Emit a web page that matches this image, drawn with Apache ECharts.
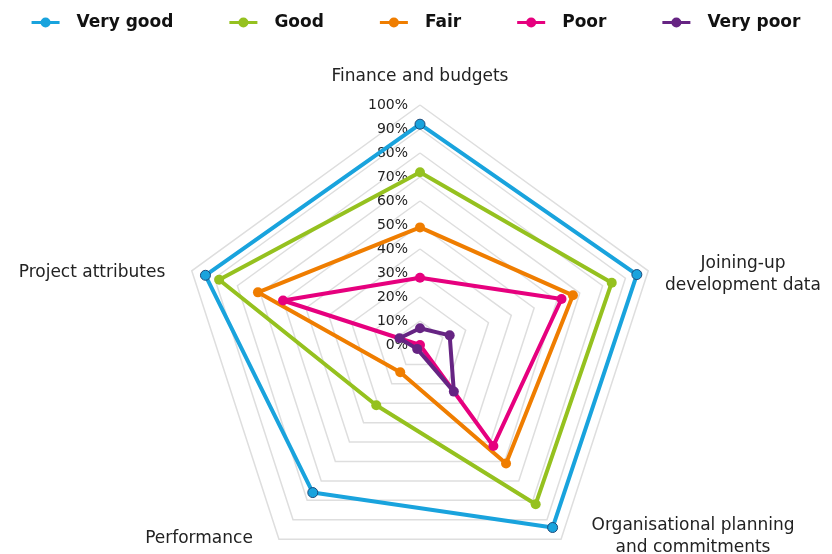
<!DOCTYPE html>
<html>
<head>
<meta charset="utf-8">
<script src="https://cdn.jsdelivr.net/npm/echarts@6/dist/echarts.min.js"></script>
<style>
  html, body { margin: 0; padding: 0; background: #fff; }
  #chart { width: 832px; height: 554px; }
</style>
</head>
<body>
<div id="chart"></div>
<script>
// indicators, counter-clockwise from the top
const categories = ['Finance and budgets', 'Project attributes', 'Performance', 'Organisational planning\nand commitments', 'Joining-up\ndevelopment data']
const tickLabels = ['0%', '10%', '20%', '30%', '40%', '50%', '60%', '70%', '80%', '90%', '100%']

const seriesNames = ['Very good', 'Good', 'Fair', 'Poor', 'Very poor']
const veryGood = [92, 94, 76, 94, 95]
const good = [72, 88, 31, 82, 84]
const fair = [49, 71, 14, 61, 67]
const poor = [28, 60, 0, 52, 62]
const veryPoor = [7, 9, 2, 24, 13]

const colors = ['#19a3dd', '#95c11f', '#ef7d00', '#e6007e', '#662483']
const font = 'DejaVu Sans'
// line with a dot in the middle, like the legend keys of the original
const legendIcon = 'path://M0,3.5H28V6.5H0Z M9,5a5,5 0 1,1 10,0a5,5 0 1,1 -10,0Z'

// where the indicator names sit (centre of each text block)
const namePos = [[420, 77], [92, 273], [199, 539], [693, 537], [743, 275]]

const chart = echarts.init(document.getElementById('chart'))

const indicator = categories.map((name, i) => {
  const ind = { name: name, min: 0, max: 100 }
  if (i === 0) {
    ind.axisLabel = {
      show: true,
      fontFamily: font,
      fontSize: 14,
      color: '#222',
      margin: 12,
      formatter: v => tickLabels[Math.round(v / 10)]
    }
  }
  return ind
})

const allData = [veryGood, good, fair, poor, veryPoor]

const option = {
  animation: false,
  color: colors,
  legend: {
    top: 9,
    left: 'center',
    itemWidth: 28,
    itemHeight: 10,
    itemGap: 56,
    icon: legendIcon,
    itemStyle: { borderWidth: 0 },
    textStyle: {
      fontFamily: font,
      fontSize: 17,
      fontWeight: 'bold',
      color: '#111',
      padding: [0, 0, 0, 12]
    },
    data: seriesNames
  },
  radar: {
    center: [420, 345],
    radius: 240,
    startAngle: 90,
    shape: 'polygon',
    splitNumber: 10,
    axisName: { show: false },
    axisLine: { show: false },
    axisTick: { show: false },
    axisLabel: { show: false },
    splitArea: { show: false },
    splitLine: { lineStyle: { color: '#dedede', width: 1.5 } },
    indicator: indicator
  },
  graphic: categories.map((name, i) => ({
    type: 'text',
    x: namePos[i][0],
    y: namePos[i][1],
    silent: true,
    style: {
      text: name,
      align: 'center',
      verticalAlign: 'middle',
      fontFamily: font,
      fontSize: 17,
      lineHeight: 22,
      fill: '#222'
    }
  })),
  series: allData.map((vals, i) => ({
    name: seriesNames[i],
    type: 'radar',
    symbol: 'circle',
    symbolSize: 10,
    lineStyle: { width: 4, color: colors[i] },
    itemStyle: i === 0
      ? { color: colors[i], borderColor: '#1b4a7a', borderWidth: 1 }
      : { color: colors[i] },
    data: [{ value: vals, name: seriesNames[i] }]
  }))
}

chart.setOption(option)
</script>
</body>
</html>
